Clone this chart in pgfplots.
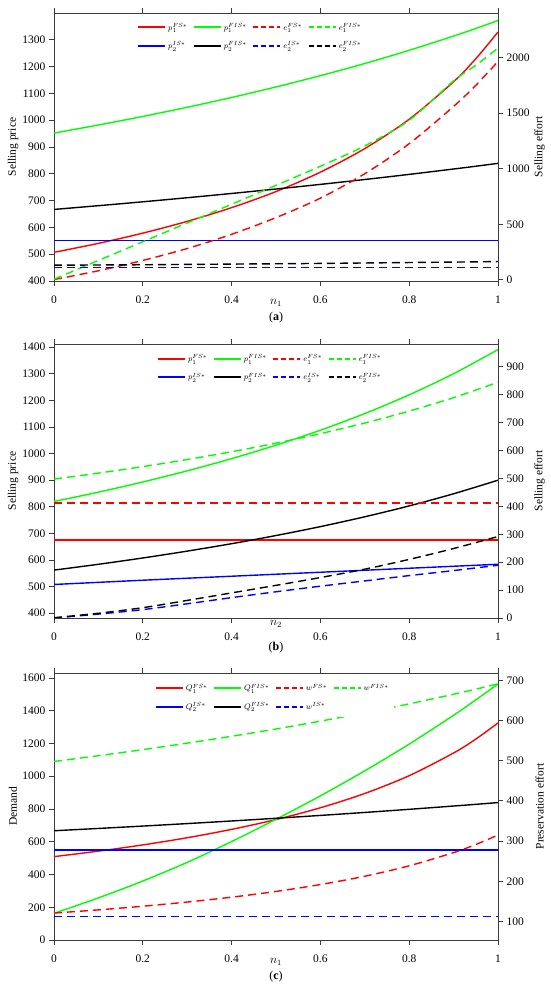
\documentclass[border=0pt]{standalone}
\usepackage{fontspec}
\setmainfont{Liberation Serif}
\usepackage{pgfplots}
\pgfplotsset{compat=1.18}
\usepackage{pgfplotstable}

\definecolor{cr}{RGB}{255,0,0}
\definecolor{cg}{RGB}{0,255,0}
\definecolor{cb}{RGB}{0,0,255}
\definecolor{ax}{RGB}{60,60,60}

% panel (a), left axis (selling price)
\pgfplotstableread{
x    p1FS   p1FIS  p2FIS
0    507    952    667
0.1  540.4  982.1  681
0.2  578.6  1014.1 695.5
0.3  622.5  1048.3 710.7
0.4  673.7  1084.8 726.6
0.5  733.7  1124.0 743.2
0.6  806.2  1166.2 760.5
0.7  894.1  1211.6 778.7
0.8  1003.6 1260.8 797.8
0.9  1143.6 1314.0 817.9
0.95 1229.4 1342.3 828.2
1.0  1329   1372   839
}\tabAL
% panel (a), right axis (selling effort)
\pgfplotstableread{
x    e1FS  e1FIS  e2FIS
0    3     6      132
0.1  82    175    134
0.2  175   343    136
0.3  282   512    139
0.4  410   680    142
0.5  560   850    145
0.6  735   1022   148
0.7  955   1205   152
0.8  1225  1435   156
0.9  1560  1790   160
0.95 1750  1930   162
1.0  1964  2084   165
}\tabAR
% panel (b), left axis
\pgfplotstableread{
x   p1FIS  p2IS  p2FIS
0   820    508   562
0.1 855.1  516   583.9
0.2 893.3  524   607.6
0.3 935.2  531.5 633.4
0.4 981.1  539   661.3
0.5 1031.7 546.5 692.0
0.6 1087.9 554   725.5
0.7 1150.6 561.5 762.5
0.8 1221.0 569   803.4
0.9 1300.4 576.5 849.0
1.0 1391   584   900
}\tabBL
% panel (b), right axis
\pgfplotstableread{
x   e1FIS  e2IS  e2FIS
0   498    0     1
0.1 519.3  14    17
0.2 542.5  30    37
0.3 568.0  51    63
0.4 595.9  73    90
0.5 626.6  94    117
0.6 660.7  114   145
0.7 698.8  133   175
0.8 741.6  152   210
0.9 789.8  170   249
1.0 845    189   292
}\tabBR
% panel (c), left axis (demand)
\pgfplotstableread{
x   Q1FS   Q1FIS  Q2FIS
0   509    163    667
0.1 542.4  257    681
0.2 580.5  360    695.5
0.3 624.3  474    710.7
0.4 675.3  601    726.6
0.5 735.4  737    743.2
0.6 807.3  880    760.5
0.7 894.6  1033   778.7
0.8 1003.2 1196   797.8
0.9 1141.8 1372   817.9
0.95 1226.5 1466  828.2
1.0 1325   1563   839
}\tabCL
% panel (c), right axis (preservation effort)
\pgfplotstableread{
x   wFS    wFIS
0   121    498
0.1 128.9  512.3
0.2 138.0  527.5
0.3 148.4  543.5
0.4 160.5  560.6
0.5 174.8  578.8
0.6 191.9  598.3
0.7 212.6  619.0
0.8 238.5  641.3
0.9 271.4  665.2
0.95 291.5 677.8
1.0 315    691
}\tabCR

\pgfplotsset{
  base/.style={
    scale only axis, width=444pt, anchor=south west,
    xmin=0, xmax=1, xtick={0,0.2,0.4,0.6,0.8,1},
    tick align=outside, major tick length=5pt,
    axis line style={ax, line width=0.8pt},
    every tick/.style={ax, line width=0.8pt},
    tick label style={font=\fontsize{11.5}{12}\selectfont, text=black},
    xticklabel style={yshift=-6pt},
    label style={font=\fontsize{11.5}{12}\selectfont},
    /pgf/number format/assume math mode=true,
    /pgf/number format/1000 sep={},
    every axis plot/.append style={line width=1.4pt},
  },
  leftax/.style={base, ytick pos=left, xtick pos=both, xticklabel pos=lower,
    ylabel style={at={(axis description cs:-0.0923,0.5)}, anchor=center}},
  rightax/.style={base, axis y line*=right, axis x line=none,
    ylabel style={at={(axis description cs:1.0935,0.5)}, anchor=center},
    legend columns=4,
    legend cell align=left,
    legend image post style={xscale=1.6},
    legend style={draw=none, fill=white, anchor=north west,
      font=\fontsize{8.5}{10}\selectfont,
      row sep=6pt,
      /tikz/every even column/.append style={column sep=3.5pt}}},
  dsh/.style={dash pattern=on 8pt off 5pt},
  ldsh/.style={dash pattern=on 5pt off 3pt},
  lw/.style={line width=1.8pt},
}

\begin{document}
\begin{tikzpicture}
\useasboundingbox (0pt,0pt) rectangle (550pt,989pt);

% ---------------- (a) ----------------
\begin{axis}[leftax, at={(54pt,708pt)}, height=268pt,
  ymin=400, ymax=1400, ytick={400,500,...,1300},
  ylabel={Selling price}, xlabel={$n_1$},
  xlabel style={at={(axis description cs:0.5,0)}, anchor=center, yshift=-22pt}]
\addplot[color=cr, smooth] table[x=x,y=p1FS]{\tabAL};
\addplot[color=cg, smooth] table[x=x,y=p1FIS]{\tabAL};
\addplot[color=cb] coordinates {(0,550) (1,550)};
\addplot[color=black, smooth] table[x=x,y=p2FIS]{\tabAL};
\end{axis}
\begin{axis}[rightax, at={(54pt,708pt)}, height=268pt,
  ymin=-10, ymax=2400, ytick={0,500,...,2000},
  ylabel={Selling effort},
  legend style={at={(rel axis cs:0.18,0.978)}}]
\addlegendimage{color=cr, lw}\addlegendentry{$p_1^{FS*}$}
\addlegendimage{color=cg, lw}\addlegendentry{$p_1^{FIS*}$}
\addlegendimage{color=cr, ldsh, lw}\addlegendentry{$e_1^{FS*}$}
\addlegendimage{color=cg, ldsh, lw}\addlegendentry{$e_1^{FIS*}$}
\addlegendimage{color=cb, lw}\addlegendentry{$p_2^{IS*}$}
\addlegendimage{color=black, lw}\addlegendentry{$p_2^{FIS*}$}
\addlegendimage{color=cb, ldsh, lw}\addlegendentry{$e_2^{IS*}$}
\addlegendimage{color=black, ldsh, lw}\addlegendentry{$e_2^{FIS*}$}
\addplot[color=cr, dsh, smooth, forget plot] table[x=x,y=e1FS]{\tabAR};
\addplot[color=cg, dsh, smooth, forget plot] table[x=x,y=e1FIS]{\tabAR};
\addplot[color=cb, dsh, forget plot] coordinates {(0,112) (1,112)};
\addplot[color=black, dsh, smooth, forget plot] table[x=x,y=e2FIS]{\tabAR};
\end{axis}

% ---------------- (b) ----------------
\begin{axis}[leftax, at={(54pt,371pt)}, height=274pt,
  ymin=382, ymax=1412, ytick={400,500,...,1400},
  ylabel={Selling price}, xlabel={$n_2$},
  xlabel style={at={(axis description cs:0.5,0)}, anchor=center, yshift=-6pt}]
\addplot[color=cr] coordinates {(0,675) (1,675)};
\addplot[color=cg, smooth] table[x=x,y=p1FIS]{\tabBL};
\addplot[color=cb, smooth] table[x=x,y=p2IS]{\tabBL};
\addplot[color=black, smooth] table[x=x,y=p2FIS]{\tabBL};
\end{axis}
\begin{axis}[rightax, at={(54pt,371pt)}, height=274pt,
  ymin=0, ymax=982, ytick={0,100,...,900},
  ylabel={Selling effort},
  legend style={at={(rel axis cs:0.225,0.977)}}]
\addlegendimage{color=cr, lw}\addlegendentry{$p_1^{FS*}$}
\addlegendimage{color=cg, lw}\addlegendentry{$p_1^{FIS*}$}
\addlegendimage{color=cr, ldsh, lw}\addlegendentry{$e_1^{FS*}$}
\addlegendimage{color=cg, ldsh, lw}\addlegendentry{$e_1^{FIS*}$}
\addlegendimage{color=cb, lw}\addlegendentry{$p_2^{IS*}$}
\addlegendimage{color=black, lw}\addlegendentry{$p_2^{FIS*}$}
\addlegendimage{color=cb, ldsh, lw}\addlegendentry{$e_2^{IS*}$}
\addlegendimage{color=black, ldsh, lw}\addlegendentry{$e_2^{FIS*}$}
\addplot[color=cr, dsh, forget plot] coordinates {(0,412) (1,412)};
\addplot[color=cg, dsh, smooth, forget plot] table[x=x,y=e1FIS]{\tabBR};
\addplot[color=cb, dsh, smooth, forget plot] table[x=x,y=e2IS]{\tabBR};
\addplot[color=black, dsh, smooth, forget plot] table[x=x,y=e2FIS]{\tabBR};
\end{axis}

% ---------------- (c) ----------------
\begin{axis}[leftax, at={(54pt,49pt)}, height=267pt,
  ymin=0, ymax=1630, ytick={0,200,...,1600},
  ylabel={Demand}, xlabel={$n_1$},
  xlabel style={at={(axis description cs:0.5,0)}, anchor=center, yshift=-22pt}]
\addplot[color=cr, smooth] table[x=x,y=Q1FS]{\tabCL};
\addplot[color=cg, smooth] table[x=x,y=Q1FIS]{\tabCL};
\addplot[color=cb] coordinates {(0,550) (1,550)};
\addplot[color=black, smooth] table[x=x,y=Q2FIS]{\tabCL};
\end{axis}
\begin{axis}[rightax, at={(54pt,49pt)}, height=267pt,
  ymin=54, ymax=718, ytick={100,200,...,700},
  ylabel={Preservation effort},
  legend style={at={(rel axis cs:0.22,0.982)}, inner ysep=4pt}]
\addlegendimage{color=cr, lw}\addlegendentry{$Q_1^{FS*}$}
\addlegendimage{color=cg, lw}\addlegendentry{$Q_1^{FIS*}$}
\addlegendimage{color=cr, ldsh, lw}\addlegendentry{$w^{FS*}$}
\addlegendimage{color=cg, ldsh, lw}\addlegendentry{$w^{FIS*}$}
\addlegendimage{color=cb, lw}\addlegendentry{$Q_2^{IS*}$}
\addlegendimage{color=black, lw}\addlegendentry{$Q_2^{FIS*}$}
\addlegendimage{color=cb, ldsh, lw}\addlegendentry{$w^{IS*}$}
\addplot[color=cr, dsh, smooth, forget plot] table[x=x,y=wFS]{\tabCR};
\addplot[color=cg, dsh, smooth, forget plot] table[x=x,y=wFIS]{\tabCR};
\addplot[color=cb, dsh, forget plot] coordinates {(0,112.4) (1,112.4)};
\end{axis}

\node[font=\fontsize{12}{14}\selectfont] at (276pt,671pt) {(\textbf{a})};
\node[font=\fontsize{12}{14}\selectfont] at (276pt,341pt) {(\textbf{b})};
\node[font=\fontsize{12}{14}\selectfont] at (276pt,12pt) {(\textbf{c})};
\end{tikzpicture}
\end{document}
